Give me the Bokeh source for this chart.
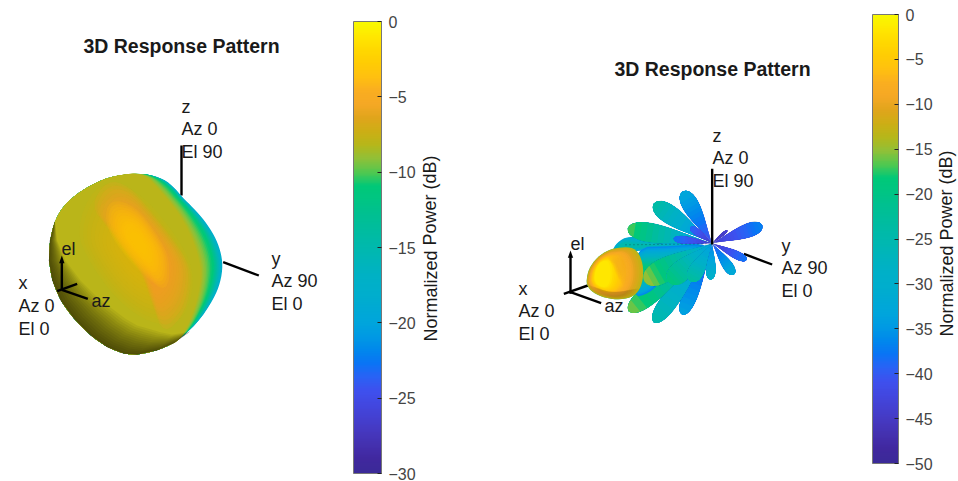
from bokeh.plotting import figure
from bokeh.models import ColorBar, LinearColorMapper, FixedTicker, CustomJSTickFormatter, AllLabels
from bokeh.core.properties import value
from bokeh.embed import file_html
from bokeh.resources import INLINE

# ---- colour scale, bottom to top of the bars
PALETTE = ["#3B2A98","#40289E","#4430AE","#4538BF","#4440D0","#4248E0","#3E50EE","#2A62F5",
           "#0A74F5","#0088EC","#009AE4","#00A5DC","#00A9D4","#00AECD","#00B0C8","#00B3BF",
           "#00B7B3","#00BAA8","#00BD9C","#00C090","#00C583","#00C878","#50C850","#90C038",
           "#B5B71A","#CDAE15","#E0A51C","#F5A825","#FAAE20","#FFC010","#FFCC04","#FFD800",
           "#FFE800","#F8F800"]

# ---- colour bars
LEFT_TICKS = [0, -5, -10, -15, -20, -25, -30]
RIGHT_TICKS = [0, -5, -10, -15, -20, -25, -30, -35, -40, -45, -50]
CBAR_TITLE = "Normalized Power (dB)"
TITLE = "3D Response Pattern"

# ---- texts
LEFT_TEXT = ["z", "Az 0", "El 90", "y", "Az 90", "El 0", "x", "Az 0", "El 0", "el", "az"]
LEFT_TEXT_X = [181, 181, 181, 271, 271, 271, 18, 18, 18, 61, 91]
LEFT_TEXT_Y = [106, 128, 151, 258, 280, 303, 282, 305, 328, 248, 300]
RIGHT_TEXT = ["z", "Az 0", "El 90", "y", "Az 90", "El 0", "x", "Az 0", "El 0", "el", "az"]
RIGHT_TEXT_X = [712, 712, 712, 781, 781, 781, 518, 518, 518, 570, 604]
RIGHT_TEXT_Y = [135, 157, 180, 245, 267, 290, 288, 310, 333, 243, 305]

# ---- left pattern (coordinates read in a 3x view of the region)
R0 = [(430,248),(490,265),(525,295),(545,320),(578,352),(612,390),(642,435),(660,480),(667,525),(660,575),(640,625),(590,700)]
R1 = [(425,248),(470,262),(505,288),(530,318),(560,352),(592,395),(618,440),(635,490),(640,535),(630,595),(605,655),(570,715)]
R2 = [(405,248),(440,258),(470,290),(505,330),(540,375),(570,430),(592,490),(603,545),(595,610),(575,675),(550,730),(530,752)]
LEFT_ARC = [(520,758),(470,780),(410,793),(370,790),(320,770),(270,735),(220,685),(180,630),(155,570),(145,510),(148,450),(163,390),(192,342),(240,302),(295,272),(345,255)]
BOTTOM_ARC = [(163,390),(148,450),(145,510),(155,570),(180,630),(220,685),(270,735),(320,770),(370,790),(410,793),(470,780),(520,758),(570,722)]
BOTTOM_IN = [(163,390),(170,450),(195,510),(240,570),(285,615),(335,655),(375,685),(410,705),(445,715),(480,725),(515,732),(548,727),(570,722)]
WARM = [(280,285),(370,280),(445,335),(515,420),(570,510),(580,600),(540,700),(450,700),(350,630),(270,520),(225,420)]
ORANGE = [(320,268),(385,285),(445,355),(505,430),(555,500),(575,560),(555,665),(490,735),(455,640),(425,550),(380,490),(320,410),(270,345)]
GOLD = [(325,325),(405,345),(470,430),(510,510),(500,610),(425,550),(360,480),(312,400)]
LEFT_BANDS_DB = [-18, -11, -8.0]

LEFT_Z = [(543,165),(543,315)]
LEFT_Y = [(668,515),(775,555)]
LEFT_EL = [(184,510),(184,598)]
LEFT_X = [(170,602),(230,580)]
LEFT_AZ = [(184,598),(262,625)]
LEFT_HEAD = [(184,495),(176,518),(192,518)]

# ---- right pattern: lobes from the centre, back to front
CENTRE = (605, 368)
BACK_X = [352, 430, 517, 755, 490, 540, 650, 515, 430, 355]
BACK_Y = [325, 250, 213, 315, 355, 320, 330, 582, 605, 572]
BACK_W = [29, 28, 25, 21, 11, 10, 4, 22, 26, 30]
BACK_TIP = [-17, -24, -33, -37, -38, -39, -44, -34, -25, -16]
BACK_TAIL = [-36, -38, -41, -44, -44, -44, -46, -41, -36, -32]
FRONT_X = [402, 475, 540, 600, 670, 708]
FRONT_Y = [482, 485, 482, 477, 462, 418]
FRONT_W = [36, 31, 23, 14, 15, 12]
FRONT_TIP = [-15, -19, -23, -29, -32, -38]
FRONT_TAIL = [-32, -34, -35, -37, -40, -44]

FAN = [(305,392),(318,367),(355,345),(440,358),(520,362),(605,368),(480,385),(320,395)]
FAN_DOTS = [(345,373),(605,370)]
TAIL = [(370,380),(480,377),(605,368),(545,420),(465,470),(415,520),(365,532)]
HEAD = [(228,478),(235,445),(260,410),(295,388),(330,380),(370,381),(392,410),(400,455),(392,500),(370,528),(330,538),(285,533),(245,515),(230,495)]
HEAD_ORANGE = [(285,405),(320,390),(352,402),(362,445),(345,505),(320,470),(305,430)]
HEAD_SHADE = [(229,490),(245,515),(285,533),(330,538),(370,528),(392,500),(350,512),(300,515),(262,505)]

RIGHT_Z = [(605,145),(605,372)]
RIGHT_Y = [(700,400),(785,432)]
RIGHT_EL = [(180,405),(180,520)]
RIGHT_X = [(160,520),(232,495)]
RIGHT_AZ = [(180,515),(272,548)]
RIGHT_HEAD = [(180,390),(172,412),(188,412)]


def hex2rgb(h):
    return tuple(int(h[i:i + 2], 16) for i in (1, 3, 5))

def smooth_palette(n=256):
    out = []
    for k in range(n):
        f = k / (n - 1) * (len(PALETTE) - 1)
        i = min(int(f), len(PALETTE) - 2)
        a, b = hex2rgb(PALETTE[i]), hex2rgb(PALETTE[i + 1])
        c = [round(a[j] + (b[j] - a[j]) * (f - i)) for j in range(3)]
        out.append("#%02X%02X%02X" % tuple(c))
    return out

FINE = smooth_palette()

def col(db, low):
    i = int(round((db - low) / (0 - low) * (len(FINE) - 1)))
    return FINE[max(0, min(len(FINE) - 1, i))]

def chaikin(pts, rounds=2):
    for _ in range(rounds):
        new = []
        for a, b in zip(pts, pts[1:] + pts[:1]):
            new.append((0.75 * a[0] + 0.25 * b[0], 0.75 * a[1] + 0.25 * b[1]))
            new.append((0.25 * a[0] + 0.75 * b[0], 0.25 * a[1] + 0.75 * b[1]))
        pts = new
    return pts

def lxy(pts):
    return [p[0] / 3 for p in pts], [90 + p[1] / 3 for p in pts]

def rxy(pts):
    return [510 + p[0] / 3 for p in pts], [120 + p[1] / 3 for p in pts]

def lerp(a, b, t):
    return [(p[0] + (q[0] - p[0]) * t, p[1] + (q[1] - p[1]) * t) for p, q in zip(a, b)]

def petal(tx, ty, w, t0=0.0, n=28):
    ox, oy = CENTRE
    dx, dy = tx - ox, ty - oy
    L = (dx * dx + dy * dy) ** 0.5
    ux, uy = -dy / L, dx / L
    left, right = [], []
    for k in range(n + 1):
        t = t0 + (1 - t0) * k / n
        h = w * 2.1 * t ** 1.25 * max(0.0, 1 - t * t) ** 0.5
        left.append((ox + dx * t + ux * h, oy + dy * t + uy * h))
        right.append((ox + dx * t - ux * h, oy + dy * t - uy * h))
    return left + right[::-1]

def scaled(pts, cx, cy, s):
    return [(cx + (p[0] - cx) * s, cy + (p[1] - cy) * s) for p in pts]

def stretched(pts, cx, cy, sx, sy):
    return [(cx + (p[0] - cx) * sx, cy + (p[1] - cy) * sy) for p in pts]

class Layer:
    def __init__(self):
        self.xs, self.ys, self.c, self.a = [], [], [], []
    def add(self, xy, color, alpha=1.0):
        self.xs.append(xy[0]); self.ys.append(xy[1]); self.c.append(color); self.a.append(alpha)
    def draw(self, fig):
        fig.patches(xs=self.xs, ys=self.ys, fill_color=self.c, fill_alpha=self.a, line_color=None)

def lobe(layer, x, y, w, tip, tail, low=-50, steps=14):
    layer.add(rxy(petal(x, y, w + 1.4)), "#0A3050", 0.4)
    for k in range(steps):
        f = k / (steps - 1)
        layer.add(rxy(petal(x, y, w, t0=f * 0.92)), col(tail + (tip - tail) * f, low))

def nested(layer, pts, cx, cy, db_out, db_in, low, steps=12, floor=0.12, tf=rxy):
    pts = chaikin(pts)
    for k in range(steps):
        f = k / (steps - 1)
        s = 1 - (1 - floor) * f
        layer.add(tf(scaled(pts, cx, cy, s)), col(db_out + (db_in - db_out) * f, low))

def soft(layer, pts, color, tf, steps=14, alpha=0.08, floor=0.3):
    pts = chaikin(pts)
    cx = sum(p[0] for p in pts) / len(pts)
    cy = sum(p[1] for p in pts) / len(pts)
    for k in range(steps):
        s = 1 - (1 - floor) * k / (steps - 1)
        layer.add(tf(scaled(pts, cx, cy, s)), color, alpha)


p = figure(width=958, height=481, x_range=(0, 958), y_range=(481, 0), output_backend="svg",
           toolbar_location=None, min_border=0, outline_line_color=None,
           background_fill_color="white", border_fill_color="white")
p.axis.visible = False
p.grid.visible = False

FONT = value("Liberation Sans")

def seg(pts, tf):
    x, y = tf(pts)
    p.line(x, y, line_color="black", line_width=2.4)

# ---------- left pattern
for pts in (LEFT_Z, LEFT_Y):
    seg(pts, lxy)

blob = Layer()
for a, b, d0, d1 in ((R0, R1, LEFT_BANDS_DB[0], LEFT_BANDS_DB[1]), (R1, R2, LEFT_BANDS_DB[1], LEFT_BANDS_DB[2])):
    for k in range(10):
        t = k / 9
        blob.add(lxy(chaikin(lerp(a, b, t) + LEFT_ARC)), col(d0 + (d1 - d0) * t, -30))
soft(blob, WARM, "#E8B010", lxy, steps=12, alpha=0.09, floor=0.3)
soft(blob, ORANGE, "#F59C28", lxy, steps=14, alpha=0.15, floor=0.3)
soft(blob, GOLD, "#FFC800", lxy, steps=12, alpha=0.16, floor=0.25)
for k in range(14):
    t = 1 - k / 14
    blob.add(lxy(BOTTOM_ARC + lerp(BOTTOM_ARC, BOTTOM_IN, t)[::-1]), "#000000", 0.055)
blob.draw(p)

for pts in (LEFT_EL, LEFT_X, LEFT_AZ):
    seg(pts, lxy)
hx, hy = lxy(LEFT_HEAD)
p.patch(hx, hy, fill_color="black", line_color=None)

# ---------- right pattern
for pts in (RIGHT_Y, RIGHT_EL, RIGHT_X, RIGHT_AZ):
    seg(pts, rxy)
hx, hy = rxy(RIGHT_HEAD)
p.patch(hx, hy, fill_color="black", line_color=None)

lobes = Layer()
nested(lobes, FAN, 330, 378, -32, -25, -50, steps=8, floor=0.4)
for x, y, w, tip, tail in zip(BACK_X, BACK_Y, BACK_W, BACK_TIP, BACK_TAIL):
    lobe(lobes, x, y, w, tip, tail)
nested(lobes, TAIL, 385, 450, -36, -19, -50, steps=14, floor=0.2)
head = chaikin(HEAD)
lobes.add(rxy(head), col(-18, -50))
for k in range(18):
    f = k / 17
    lobes.add(rxy(stretched(head, 262, 462, 1 - 0.72 * f, 1 - 0.5 * f)), col(-13 + 11.5 * f, -50))
soft(lobes, HEAD_ORANGE, col(-8, -50), rxy, steps=10, alpha=0.12, floor=0.3)
soft(lobes, HEAD_SHADE, "#000000", rxy, steps=6, alpha=0.03, floor=0.6)
for x, y, w, tip, tail in zip(FRONT_X, FRONT_Y, FRONT_W, FRONT_TIP, FRONT_TAIL):
    lobe(lobes, x, y, w, tip, tail)
lobes.draw(p)
dx, dy = rxy(FAN_DOTS)
p.line(dx, dy, line_color="#103040", line_width=1, line_dash="1 3", line_alpha=0.6)
seg(RIGHT_Z, rxy)

# ---------- texts
p.text(LEFT_TEXT_X, LEFT_TEXT_Y, text=LEFT_TEXT, text_font=FONT, text_font_size="18px",
       text_baseline="middle", text_color="#1a1a1a")
p.text(RIGHT_TEXT_X, RIGHT_TEXT_Y, text=RIGHT_TEXT, text_font=FONT, text_font_size="18px",
       text_baseline="middle", text_color="#1a1a1a")
p.text([181, 712], [45, 68], text=[TITLE, TITLE], text_font=FONT, text_font_size="19.5px",
       text_font_style="bold", text_align="center", text_baseline="middle", text_color="#1a1a1a")
p.text([430, 946], [248, 243], text=[CBAR_TITLE, CBAR_TITLE], text_font=FONT, text_font_size="18px",
       text_align="center", text_baseline="middle", angle=1.5708, text_color="#1a1a1a")

# ---------- colour bars
FMT = CustomJSTickFormatter(code="return String(tick).replace('-', '\\u2212')")

def add_bar(low, ticks, left, top, w, h):
    mapper = LinearColorMapper(palette=FINE, low=low, high=0)
    bar = ColorBar(color_mapper=mapper, ticker=FixedTicker(ticks=ticks), formatter=FMT,
                   major_label_policy=AllLabels(),
                   width=w, height=h, padding=0, margin=0, location=(left, 481 - top - h),
                   bar_line_color="#777777", bar_line_width=1,
                   major_tick_in=4, major_tick_line_color="#222222", minor_tick_line_color=None,
                   label_standoff=7, major_label_text_font="Liberation Sans",
                   major_label_text_font_size="16px", major_label_text_color="#444444",
                   background_fill_color=None, border_line_color=None)
    p.add_layout(bar)

add_bar(-30, LEFT_TICKS, 353, 21, 28, 452)
add_bar(-50, RIGHT_TICKS, 872, 14, 26, 449)

open("out.html", "w").write(file_html(p, INLINE))
